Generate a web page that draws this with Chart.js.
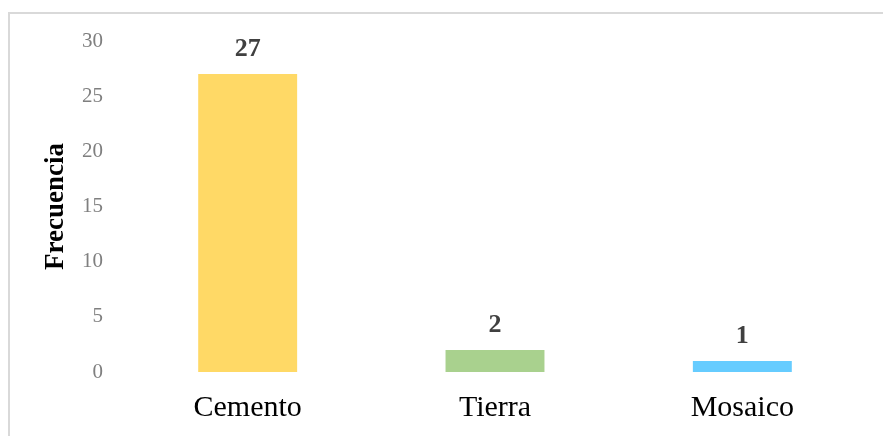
<!DOCTYPE html>
<html>
<head>
<meta charset="utf-8">
<script src="https://cdn.jsdelivr.net/npm/chart.js@4"></script>
<style>
  html, body { margin: 0; padding: 0; background: #fff; }
  #wrap { position: relative; width: 883px; height: 436px; overflow: hidden; }
  #marco { position: absolute; left: 8px; top: 12px; width: 900px; height: 450px;
           border-left: 2px solid #d9d9d9; border-top: 2px solid #d9d9d9; }
  canvas { position: absolute; left: 0; top: 0; }
</style>
</head>
<body>
<div id="wrap">
  <div id="marco"></div>
  <canvas id="ChartPisos" width="883" height="436"></canvas>
</div>
<script>
const categorias = ['Cemento', 'Tierra', 'Mosaico'];
const frecuencias = [27, 2, 1];
const colores = ['#FFD966', '#A9D18E', '#66CCFF'];
const ticksY = [0, 5, 10, 15, 20, 25, 30];

// etiquetas encima de cada barra
const etiquetas = {
    id: 'etiquetas',
    afterDatasetsDraw(chart) {
        const ctx = chart.ctx;
        ctx.save();
        ctx.font = 'bold 26px "Liberation Serif"';
        ctx.fillStyle = '#404040';
        ctx.textAlign = 'center';
        ctx.textBaseline = 'alphabetic';
        chart.getDatasetMeta(0).data.forEach((barra, i) => {
            ctx.fillText(String(chart.data.datasets[0].data[i]), barra.x, barra.y - 18);
        });
        ctx.restore();
    }
};

const chartPisos = new Chart(document.getElementById('ChartPisos'), {
    type: 'bar',
    data: {
        labels: categorias,
        datasets: [{
            label: 'Frecuencia',
            data: frecuencias,
            backgroundColor: colores,
            borderWidth: 0,
            barPercentage: 0.4,
            categoryPercentage: 1
        }]
    },
    options: {
        responsive: false,
        animation: false,
        layout: { padding: { left: 10, right: 17, top: 41, bottom: 0 } },
        plugins: {
            legend: { display: false },
            tooltip: { enabled: false }
        },
        scales: {
            x: {
                grid: { display: false, drawTicks: false },
                border: { display: false },
                ticks: {
                    color: '#000',
                    padding: 18,
                    font: { family: 'Liberation Serif', size: 30 }
                },
                afterFit: (s) => { s.height = 64; }
            },
            y: {
                min: 0,
                max: 30,
                grid: { display: false, drawTicks: false },
                border: { display: false },
                afterBuildTicks: (s) => { s.ticks = ticksY.map(v => ({ value: v })); },
                ticks: {
                    color: '#7f7f7f',
                    padding: 21,
                    font: { family: 'Liberation Serif', size: 21 }
                },
                title: {
                    display: true,
                    text: 'Frecuencia',
                    color: '#000',
                    padding: { top: 30, bottom: 0 },
                    font: { family: 'Liberation Serif', size: 27, weight: 'bold' }
                },
                afterFit: (s) => { s.width = 114; }
            }
        }
    },
    plugins: [etiquetas]
});
</script>
</body>
</html>
